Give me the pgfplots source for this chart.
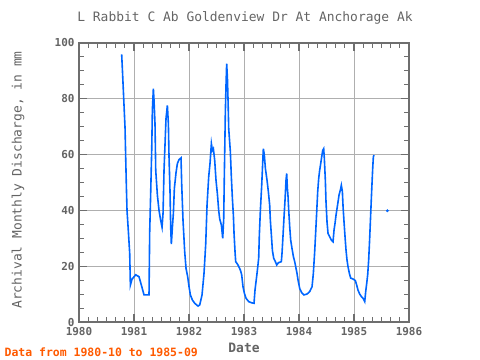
\documentclass[border=0pt]{standalone}
\usepackage{pgfplots}
\pgfplotsset{compat=1.18}
\usepackage{fontspec}
\setmainfont{DejaVu Sans Mono}
\definecolor{txtgray}{RGB}{100,100,100}
\definecolor{axgray}{RGB}{110,110,110}
\definecolor{gridgray}{RGB}{175,175,175}
\definecolor{lineblue}{RGB}{0,102,255}
\definecolor{redtxt}{RGB}{255,90,0}
\begin{document}
\begin{tikzpicture}
\path (0bp,0bp) rectangle (480bp,360bp);
\begin{axis}[
  at={(79bp,37.7bp)}, anchor=south west,
  scale only axis, width=330bp, height=279.6bp,
  xmin=1980, xmax=1986, ymin=0, ymax=100,
  xtick={1980,1981,...,1986}, ytick={0,20,...,100},
  xticklabel={\pgfmathprintnumber[1000 sep={},assume math mode=true]{\tick}},
  yticklabel={\pgfmathprintnumber[assume math mode=true]{\tick}},
  major tick length=0pt,
  axis line style={axgray, line width=2bp},
  xmajorgrids=true, ymajorgrids=true, major grid style={gridgray, line width=0.9bp},
  ticklabel style={font=\fontsize{11}{12}\selectfont\bfseries, text=txtgray},
  xticklabel style={yshift=-2bp},
  yticklabel style={xshift=-1bp},
]
\addplot[lineblue, line width=1.6bp] coordinates {
(1980.776,95.8) (1980.789,90.4) (1980.813,80) (1980.837,69.6) (1980.849,59)
(1980.861,48.8) (1980.873,40) (1980.898,32.4) (1980.922,24.6) (1980.934,13.3)
(1980.964,15.4) (1981.031,17) (1981.091,16.3) (1981.134,13.3) (1981.182,9.8)
(1981.273,9.8) (1981.285,32) (1981.304,46.7) (1981.322,61.5) (1981.334,75.8)
(1981.352,83.6) (1981.364,79.4) (1981.382,71) (1981.395,54.4) (1981.425,45.5)
(1981.455,40) (1981.485,36.5) (1981.510,34) (1981.528,39) (1981.546,54.4)
(1981.582,72.9) (1981.607,77.6) (1981.625,71) (1981.637,59) (1981.655,46.7)
(1981.667,34) (1981.679,28) (1981.698,34) (1981.716,39) (1981.734,47.9)
(1981.764,53.5) (1981.789,56.8) (1981.819,58.2) (1981.855,58.8) (1981.867,49.6)
(1981.891,36.5) (1981.922,25.2) (1981.946,19.3) (1981.976,16.3) (1982.001,12.7)
(1982.025,9.8) (1982.061,8) (1982.104,6.8) (1982.164,5.8) (1982.195,6.2)
(1982.237,9.8) (1982.273,17.5) (1982.304,28) (1982.328,41.9) (1982.358,52)
(1982.382,56.8) (1982.407,63.9) (1982.425,61.5) (1982.443,62.1) (1982.467,58)
(1982.491,50.8) (1982.516,46) (1982.540,40) (1982.558,37) (1982.589,34.8)
(1982.613,30) (1982.631,37) (1982.643,53.2) (1982.661,75.2) (1982.673,84.8)
(1982.685,92.5) (1982.698,87.7) (1982.710,79.4) (1982.722,69.3) (1982.752,61)
(1982.770,52) (1982.789,44.3) (1982.807,38.3) (1982.819,31.8) (1982.837,25.2)
(1982.849,21.7) (1982.891,20.5) (1982.934,18.7) (1982.958,17) (1982.982,12.7)
(1983.007,10.4) (1983.037,8.6) (1983.085,7.4) (1983.134,7) (1983.182,6.8)
(1983.200,11.5) (1983.237,17.5) (1983.267,22.9) (1983.279,31.2) (1983.298,40.1)
(1983.322,49) (1983.340,57.1) (1983.352,62.1) (1983.370,59.8) (1983.389,55)
(1983.419,50.8) (1983.443,46.7) (1983.467,41.9) (1983.479,36.5) (1983.498,31.2)
(1983.516,25.8) (1983.540,22.9) (1983.570,21.7) (1983.595,20.5) (1983.625,21.3)
(1983.679,21.7) (1983.691,24.6) (1983.710,31.2) (1983.728,37.7) (1983.746,43.7)
(1983.764,50.8) (1983.776,53.2) (1983.789,47.9) (1983.801,44.9) (1983.813,40.1)
(1983.831,34.2) (1983.849,29.4) (1983.873,26.4) (1983.898,23.5) (1983.922,21.7)
(1983.940,19.9) (1983.964,17.5) (1983.982,15.2) (1984.013,12.1) (1984.049,10.6)
(1984.091,9.8) (1984.146,10.1) (1984.195,11) (1984.237,12.7) (1984.261,17.5)
(1984.285,25.2) (1984.304,32.4) (1984.322,39.5) (1984.340,46.7) (1984.358,51.4)
(1984.376,54.4) (1984.395,56.8) (1984.413,59.2) (1984.431,61.5) (1984.449,62.1)
(1984.461,58.5) (1984.479,50.8) (1984.491,43.1) (1984.510,35.8) (1984.528,31.8)
(1984.558,30.6) (1984.589,29.4) (1984.619,28.8) (1984.637,33) (1984.655,35.4)
(1984.673,38.3) (1984.691,40.6) (1984.710,43.1) (1984.728,45.5) (1984.752,47.3)
(1984.770,49) (1984.789,46.7) (1984.801,41.4) (1984.819,35.8) (1984.837,30.6)
(1984.855,25.8) (1984.873,22.3) (1984.891,19.9) (1984.916,17.5) (1984.940,15.8)
(1984.982,15.5) (1985.025,14.9) (1985.049,13.3) (1985.073,11.5) (1985.104,10.1)
(1985.134,9.2) (1985.164,8.6) (1985.195,7.4) (1985.213,11) (1985.231,13.9)
(1985.249,17) (1985.267,22.3) (1985.285,30) (1985.304,38.9) (1985.322,47.3)
(1985.340,55) (1985.352,59.2) (1985.364,59.8)
};
\addplot[lineblue, only marks, mark=*, mark size=1.3bp] coordinates {(1985.607,39.9)};
\end{axis}
\foreach \k in {0,...,36}{
  \pgfmathsetmacro\xx{79+9.16667*\k}
  \draw[axgray, line width=1.3bp] (\xx bp,37.7bp) -- (\xx bp,42.7bp);
  \draw[axgray, line width=1.3bp] (\xx bp,317.3bp) -- (\xx bp,312.3bp);
}
\foreach \k in {0,...,6}{
  \pgfmathsetmacro\xx{79+55*\k}
  \draw[axgray, line width=1.3bp] (\xx bp,37.7bp) -- (\xx bp,45.7bp);
  \draw[axgray, line width=1.3bp] (\xx bp,317.3bp) -- (\xx bp,309.3bp);
}
\foreach \j in {0,...,20}{
  \pgfmathsetmacro\yy{37.7+13.98*\j}
  \draw[axgray, line width=1.3bp] (79bp,\yy bp) -- (84bp,\yy bp);
  \draw[axgray, line width=1.3bp] (409bp,\yy bp) -- (404bp,\yy bp);
}
\foreach \j in {0,...,5}{
  \pgfmathsetmacro\yy{37.7+55.92*\j}
  \draw[axgray, line width=1.3bp] (79bp,\yy bp) -- (87bp,\yy bp);
  \draw[axgray, line width=1.3bp] (409bp,\yy bp) -- (401bp,\yy bp);
}
\node[text=txtgray, font=\fontsize{13}{14}\selectfont] at (245bp,342bp) {L Rabbit C Ab Goldenview Dr At Anchorage Ak};
\node[text=txtgray, font=\fontsize{13}{14}\selectfont\bfseries] at (244bp,12.5bp) {Date};
\node[text=txtgray, font=\fontsize{13}{14}\selectfont, rotate=90] at (18bp,180bp) {Archival Monthly Discharge, in mm};
\node[text=redtxt, font=\fontsize{11.5}{12}\selectfont\bfseries, anchor=west, inner sep=0pt] at (4.5bp,7.7bp) {Data from 1980-10 to 1985-09};
\end{tikzpicture}
\end{document}
